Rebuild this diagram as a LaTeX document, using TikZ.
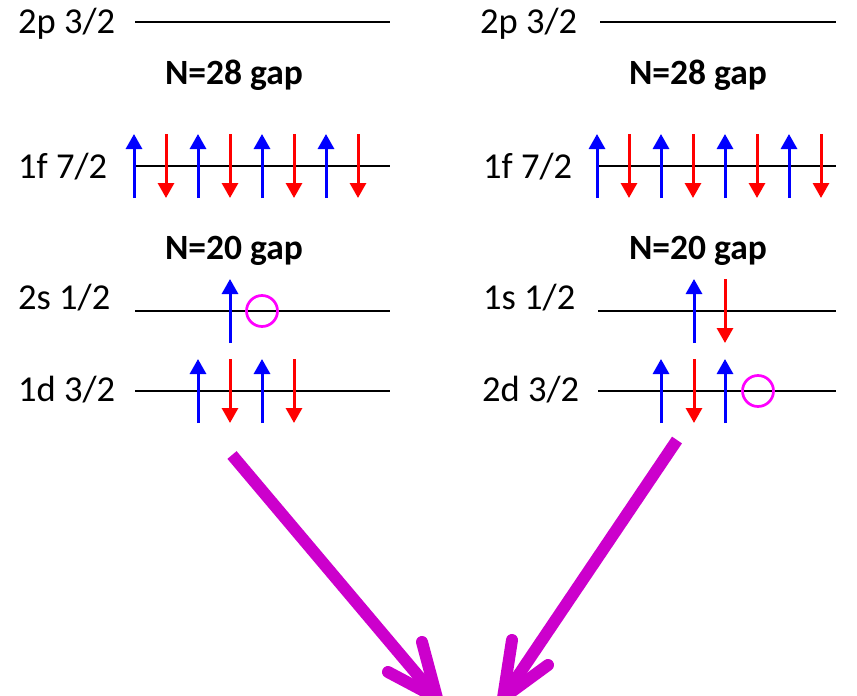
\documentclass[tikz,border=0pt]{standalone}
\usepackage{fontspec}
\setmainfont{Carlito}
\usetikzlibrary{arrows.meta,calc}
\begin{document}
\begin{tikzpicture}[x=1pt,y=-1pt,
  lvl/.style={line width=2.7pt,black},
  lab/.style={anchor=base west,inner sep=0pt,font=\fontsize{36.5}{40}\selectfont},
  gaplab/.style={anchor=base,inner sep=0pt,font=\fontsize{35.5}{40}\selectfont\bfseries},
  spinup/.style={line width=3pt,blue,-{Triangle[width=16pt,length=15pt]}},
  spindn/.style={line width=3pt,red,-{Triangle[width=16pt,length=15pt]}},
  hole/.style={line width=2.7pt,circle,minimum size=31pt,inner sep=0pt},
  bigarrow/.style={line width=12pt,draw={rgb,255:red,204;green,0;blue,204}},
]
\definecolor{mag}{RGB}{255,0,255}
\useasboundingbox (0,0) rectangle (857,696);
% ---------- left panel ----------
\node[lab] (L2p) at (18,33) {2p 3/2};
\coordinate (L2pa) at (135,22); \coordinate (L2pb) at (390,22);
\draw[lvl] (L2pa) -- (L2pb);
\node[gaplab] (L28) at (234,84) {N=28 gap};
\node[lab] (L1f) at (18,178) {1f 7/2};
\coordinate (L1fa) at (135,166); \coordinate (L1fb) at (390,166);
\draw[lvl] (L1fa) -- (L1fb);
\foreach \x in {134,198,262,326}{\draw[spinup] (\x,198) -- (\x,134);}
\foreach \x in {166,230,294,358}{\draw[spindn] (\x,134) -- (\x,198);}
\node[gaplab] (L20) at (234,259) {N=20 gap};
\node[lab] (L2s) at (18,309) {2s 1/2};
\coordinate (L2sa) at (135,311); \coordinate (L2sb) at (390,311);
\draw[lvl] (L2sa) -- (L2sb);
\draw[spinup] (230,343) -- (230,279);
\node[hole,draw=mag] (Lhole) at (262,311) {};
\node[lab] (L1d) at (18,401) {1d 3/2};
\coordinate (L1da) at (135,391); \coordinate (L1db) at (390,391);
\draw[lvl] (L1da) -- (L1db);
\foreach \x in {198,262}{\draw[spinup] (\x,423) -- (\x,359);}
\foreach \x in {230,294}{\draw[spindn] (\x,359) -- (\x,423);}
% ---------- right panel ----------
\node[lab] (R2p) at (480,33) {2p 3/2};
\coordinate (R2pa) at (600,22); \coordinate (R2pb) at (836,22);
\draw[lvl] (R2pa) -- (R2pb);
\node[gaplab] (R28) at (698,84) {N=28 gap};
\node[lab] (R1f) at (483,178) {1f 7/2};
\coordinate (R1fa) at (597,166); \coordinate (R1fb) at (836,166);
\draw[lvl] (R1fa) -- (R1fb);
\foreach \x in {597,661,725,789}{\draw[spinup] (\x,198) -- (\x,134);}
\foreach \x in {629,693,757,821}{\draw[spindn] (\x,134) -- (\x,198);}
\node[gaplab] (R20) at (698,259) {N=20 gap};
\node[lab] (R1s) at (483,309) {1s 1/2};
\coordinate (R1sa) at (598,311); \coordinate (R1sb) at (836,311);
\draw[lvl] (R1sa) -- (R1sb);
\draw[spinup] (694,343) -- (694,279);
\draw[spindn] (725,279) -- (725,343);
\node[lab] (R2d) at (482,401) {2d 3/2};
\coordinate (R2da) at (598,391); \coordinate (R2db) at (836,391);
\draw[lvl] (R2da) -- (R2db);
\foreach \x in {661,725}{\draw[spinup] (\x,423) -- (\x,359);}
\draw[spindn] (694,359) -- (694,423);
\node[hole,draw=mag] (Rhole) at (758,391) {};
% ---------- big magenta arrows ----------
\coordinate (LAs) at (232,455); \coordinate (LAt) at (437,698);
\coordinate (LAb1) at (422,642); \coordinate (LAb2) at (388,672);
\draw[bigarrow,line cap=butt] (LAs) -- ($(LAs)!0.97!(LAt)$);
\draw[bigarrow,line cap=round,line join=miter] (LAb1) -- (LAt) -- (LAb2);
\coordinate (RAs) at (677,440); \coordinate (RAt) at (503,698);
\coordinate (RAb1) at (512,640); \coordinate (RAb2) at (548,665);
\draw[bigarrow,line cap=butt] (RAs) -- ($(RAs)!0.97!(RAt)$);
\draw[bigarrow,line cap=round,line join=miter] (RAb1) -- (RAt) -- (RAb2);
\end{tikzpicture}
\end{document}
